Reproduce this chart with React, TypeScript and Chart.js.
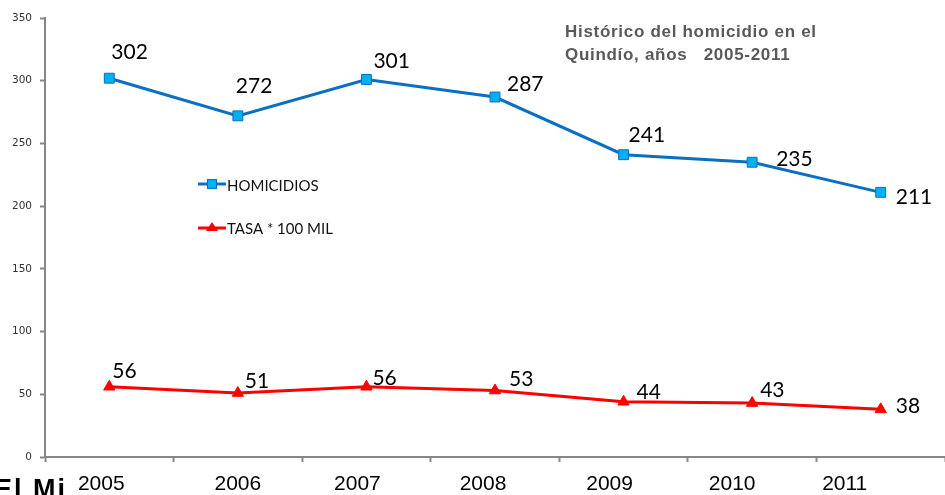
import React, { useEffect, useRef } from "react";
import { Chart, registerables } from "chart.js";

Chart.register(...registerables);

const years = ["2005", "2006", "2007", "2008", "2009", "2010", "2011"];
const homicidios = [302, 272, 301, 287, 241, 235, 211];
const tasa = [56, 51, 56, 53, 44, 43, 38];
const yTicks = [0, 50, 100, 150, 200, 250, 300, 350];
const titleLines = ["Histórico del homicidio en el", "Quindío, años   2005-2011"];
const legendLabels = ["HOMICIDIOS", "TASA * 100 MIL"];
const cornerText = "El Mi";

// label offsets (style/layout only)
const homLabelOffsets = [[2, -26], [-2, -30], [7, -18], [12, -13], [5, -19], [24, -3], [15, 5]];
const tasaLabelOffsets = [[3, -16], [7, -12], [6, -9], [14, -11], [13, -10], [8, -13], [15, -3]];
const xLabelShift = [-8, 0, -9, -12, -14, -20, -36];

const BLUE = "#0B6FC2";
const BLUE_FILL = "#00B0F0";
const RED = "#FF0000";

const overlayPlugin = {
  id: "overlay",
  afterDraw(chart: any) {
    const ctx = chart.ctx;
    const xs = chart.scales.x;
    ctx.save();
    // title
    ctx.fillStyle = "#595959";
    ctx.font = "bold 17px 'Liberation Sans', Arial, sans-serif";
    (ctx as any).letterSpacing = "0.7px";
    ctx.textAlign = "left";
    ctx.textBaseline = "alphabetic";
    ctx.fillText(titleLines[0], 565, 37);
    ctx.fillText(titleLines[1], 565, 60);
    (ctx as any).letterSpacing = "0px";

    // legend
    const legY = [184, 228];
    ctx.lineWidth = 3;
    ctx.strokeStyle = BLUE;
    ctx.beginPath();
    ctx.moveTo(198, legY[0]);
    ctx.lineTo(226, legY[0]);
    ctx.stroke();
    ctx.fillStyle = BLUE_FILL;
    ctx.lineWidth = 1;
    ctx.fillRect(207, legY[0] - 5, 10, 10);
    ctx.strokeRect(207.5, legY[0] - 4.5, 9, 9);
    ctx.lineWidth = 3;
    ctx.strokeStyle = RED;
    ctx.beginPath();
    ctx.moveTo(198, legY[1]);
    ctx.lineTo(226, legY[1]);
    ctx.stroke();
    ctx.fillStyle = RED;
    ctx.beginPath();
    ctx.moveTo(212, legY[1] - 6);
    ctx.lineTo(218, legY[1] + 3);
    ctx.lineTo(206, legY[1] + 3);
    ctx.closePath();
    ctx.fill();
    ctx.fillStyle = "#111";
    ctx.font = "15px Lato, sans-serif";
    ctx.textBaseline = "middle";
    ctx.fillText(legendLabels[0], 227, legY[0] + 2);
    ctx.fillText(legendLabels[1], 227, legY[1] + 1);

    // data labels
    ctx.font = "21px Lato, sans-serif";
    ctx.fillStyle = "#000";
    const drawLabels = (dsIndex: number, data: number[], offs: number[][]) => {
      const meta = chart.getDatasetMeta(dsIndex);
      meta.data.forEach((pt: any, i: number) => {
        ctx.fillText(String(data[i]), pt.x + offs[i][0], pt.y + offs[i][1]);
      });
    };
    drawLabels(0, homicidios, homLabelOffsets);
    drawLabels(1, tasa, tasaLabelOffsets);

    // x labels
    ctx.font = "21px 'Liberation Sans', Arial, sans-serif";
    ctx.textAlign = "center";
    ctx.textBaseline = "alphabetic";
    years.forEach((y, i) => {
      ctx.fillText(y, xs.getPixelForValue(i) + xLabelShift[i], 490);
    });

    // corner text
    ctx.textAlign = "left";
    ctx.font = "bold 27px 'Liberation Sans', Arial, sans-serif";
    (ctx as any).letterSpacing = "2px";
    ctx.fillText(cornerText, -6, 498);
    (ctx as any).letterSpacing = "0px";
    ctx.restore();
  },
};

export default function App() {
  const ref = useRef<HTMLCanvasElement | null>(null);
  useEffect(() => {
    document.body.style.margin = "0";
    const chart = new Chart(ref.current!, {
      type: "line",
      data: {
        labels: years,
        datasets: [
          {
            label: legendLabels[0],
            data: homicidios,
            borderColor: BLUE,
            borderWidth: 3,
            backgroundColor: BLUE_FILL,
            pointStyle: "rect",
            pointRadius: 7,
            pointBorderColor: BLUE,
            pointBorderWidth: 1,
            pointBackgroundColor: BLUE_FILL,
            tension: 0,
          },
          {
            label: legendLabels[1],
            data: tasa,
            borderColor: RED,
            borderWidth: 3,
            backgroundColor: RED,
            pointStyle: "triangle",
            pointRadius: 6.5,
            pointBorderColor: RED,
            pointBorderWidth: 1,
            pointBackgroundColor: RED,
            tension: 0,
          },
        ],
      },
      options: {
        animation: false,
        responsive: false,
        maintainAspectRatio: false,
        layout: { autoPadding: false, padding: { top: 18, right: -3, left: 0, bottom: 0 } },
        plugins: { legend: { display: false }, tooltip: { enabled: false }, title: { display: false } },
        scales: {
          x: {
            type: "category",
            offset: true,
            border: { display: true, color: "#878787", width: 2 },
            grid: { display: true, drawOnChartArea: false, drawTicks: true, tickLength: 5, tickColor: "#878787", tickWidth: 2, offset: true },
            ticks: { display: false },
            afterFit: (s: any) => { s.height = 38; },
          },
          y: {
            min: 0,
            max: 350,
            afterBuildTicks: (s: any) => { s.ticks = yTicks.map((v) => ({ value: v })); },
            border: { display: true, color: "#878787", width: 2 },
            grid: { display: true, drawOnChartArea: false, drawTicks: true, tickLength: 5, tickColor: "#878787", tickWidth: 2 },
            ticks: { padding: 8, color: "#333", font: { family: "'DejaVu Sans', sans-serif", size: 10.5 } },
            afterFit: (s: any) => { s.width = 45; },
          },
        },
      },
      plugins: [overlayPlugin],
    });
    return () => chart.destroy();
  }, []);
  return (
    <div style={{ width: 945, height: 495, position: "relative" }}>
      <canvas ref={ref} width={945} height={495} style={{ display: "block" }} />
    </div>
  );
}
